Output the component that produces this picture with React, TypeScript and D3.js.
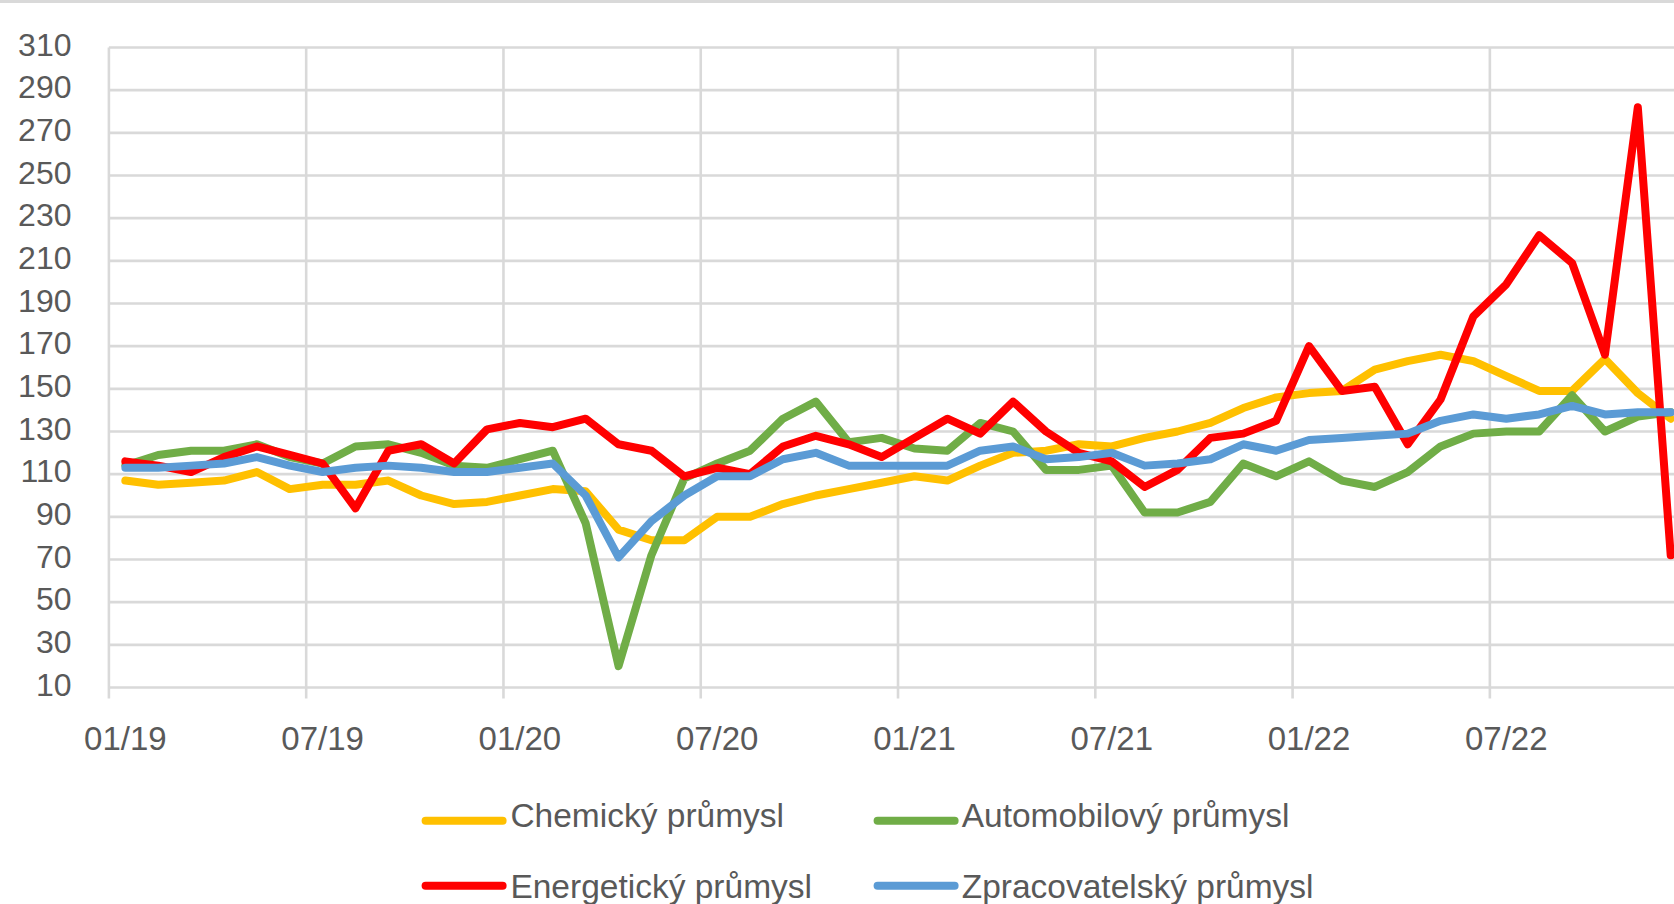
import React from "react";
import * as d3 from "d3";

// monthly index values, 01/2019 - 12/2022
const months = [
  "01/19", "02/19", "03/19", "04/19", "05/19", "06/19", "07/19", "08/19", "09/19", "10/19", "11/19", "12/19",
  "01/20", "02/20", "03/20", "04/20", "05/20", "06/20", "07/20", "08/20", "09/20", "10/20", "11/20", "12/20",
  "01/21", "02/21", "03/21", "04/21", "05/21", "06/21", "07/21", "08/21", "09/21", "10/21", "11/21", "12/21",
  "01/22", "02/22", "03/22", "04/22", "05/22", "06/22", "07/22", "08/22", "09/22", "10/22", "11/22", "12/22",
];

const chemicky = [
  107, 105, 106, 107, 111, 103, 105, 105, 107, 100, 96, 97,
  100, 103, 102, 84, 79, 79, 90, 90, 96, 100, 103, 106,
  109, 107, 114, 120, 121, 124, 123, 127, 130, 134, 141, 146,
  148, 149, 159, 163, 166, 163, 156, 149, 149, 164, 148, 136,
];
const automobilovy = [
  114, 119, 121, 121, 124, 118, 115, 123, 124, 120, 114, 113,
  117, 121, 87, 20, 72, 108, 115, 121, 136, 144, 125, 127,
  122, 121, 134, 130, 112, 112, 114, 92, 92, 97, 115, 109,
  116, 107, 104, 111, 123, 129, 130, 130, 147, 130, 137, 139,
];
const energeticky = [
  116, 114, 111, 118, 123, 119, 115, 94, 121, 124, 115, 131,
  134, 132, 136, 124, 121, 109, 113, 110, 123, 128, 124, 118,
  127, 136, 129, 144, 130, 120, 116, 104, 112, 127, 129, 135,
  170, 149, 151, 124, 145, 184, 199, 222, 209, 166, 282, 72,
];
const zpracovatelsky = [
  113, 113, 114, 115, 118, 114, 111, 113, 114, 113, 111, 111,
  113, 115, 100, 71, 88, 100, 109, 109, 117, 120, 114, 114,
  114, 114, 121, 123, 117, 118, 120, 114, 115, 117, 124, 121,
  126, 127, 128, 129, 135, 138, 136, 138, 142, 138, 139, 139,
];

const xTickLabels = ["01/19", "07/19", "01/20", "07/20", "01/21", "07/21", "01/22", "07/22"];
const yTicks = [10, 30, 50, 70, 90, 110, 130, 150, 170, 190, 210, 230, 250, 270, 290, 310];

const seriesNames = ["Chemický průmysl", "Automobilový průmysl", "Energetický průmysl", "Zpracovatelský průmysl"];
const seriesColors = ["#FFC000", "#70AD47", "#FF0000", "#5B9BD5"];
const seriesData = [chemicky, automobilovy, energeticky, zpracovatelsky];

const W = 1674;
const H = 904;
const left = 108.9;
const monthW = 32.88;
const top = 47.5;
const bottom = 687.5;
const font = "'Liberation Sans', Arial, sans-serif";
const textColor = "#595959";
const gridColor = "#D9D9D9";

export default function App() {
  const x = d3.scaleBand<string>().domain(months).range([left, left + months.length * monthW]);
  const y = d3.scaleLinear().domain([10, 310]).range([bottom, top]);
  const bw = x.bandwidth();
  const cx = (m: string) => (x(m) as number) + bw / 2;

  const line = d3
    .line<number>()
    .x((_, i) => cx(months[i]))
    .y((d) => y(d));

  // legend slots: two rows, two columns
  const legendPos = [
    { sx: 421.6, tx: 510.4, yy: 820.7, by: 826.5 },
    { sx: 873.6, tx: 961.7, yy: 820.7, by: 826.5 },
    { sx: 421.6, tx: 510.4, yy: 885.7, by: 897.5 },
    { sx: 873.6, tx: 961.7, yy: 885.7, by: 897.5 },
  ];

  return (
    <svg
      width={W}
      height={H}
      style={{ position: "fixed", left: 0, top: 0, background: "#fff" }}
    >
      <rect x={0} y={0} width={W} height={3} fill={gridColor} />

      {/* horizontal grid */}
      {yTicks.map((t) => (
        <line key={"h" + t} x1={left} x2={W} y1={y(t)} y2={y(t)} stroke={gridColor} strokeWidth={2.6} />
      ))}
      {/* vertical grid at category boundaries, every 6 months */}
      {xTickLabels.map((l) => (
        <line key={"v" + l} x1={x(l)} x2={x(l)} y1={top} y2={bottom + 11} stroke={gridColor} strokeWidth={2.6} />
      ))}

      {yTicks.map((t) => (
        <text
          key={"yl" + t}
          x={71.5}
          y={y(t) + 8}
          textAnchor="end"
          fontFamily={font}
          fontSize={32}
          fill={textColor}
        >
          {t}
        </text>
      ))}
      {xTickLabels.map((l) => (
        <text
          key={"xl" + l}
          x={cx(l)}
          y={750}
          textAnchor="middle"
          fontFamily={font}
          fontSize={33}
          fill={textColor}
        >
          {l}
        </text>
      ))}

      {seriesData.map((s, k) => (
        <path
          key={"s" + k}
          d={line(s) || ""}
          fill="none"
          stroke={seriesColors[k]}
          strokeWidth={8}
          strokeLinejoin="round"
          strokeLinecap="round"
        />
      ))}

      {seriesNames.map((n, k) => (
        <g key={"lg" + k}>
          <line
            x1={legendPos[k].sx + 4}
            x2={legendPos[k].sx + 81}
            y1={legendPos[k].yy}
            y2={legendPos[k].yy}
            stroke={seriesColors[k]}
            strokeWidth={8}
            strokeLinecap="round"
          />
          <text
            x={legendPos[k].tx}
            y={legendPos[k].by}
            fontFamily={font}
            fontSize={33.5}
            fill={textColor}
          >
            {n}
          </text>
        </g>
      ))}
    </svg>
  );
}
